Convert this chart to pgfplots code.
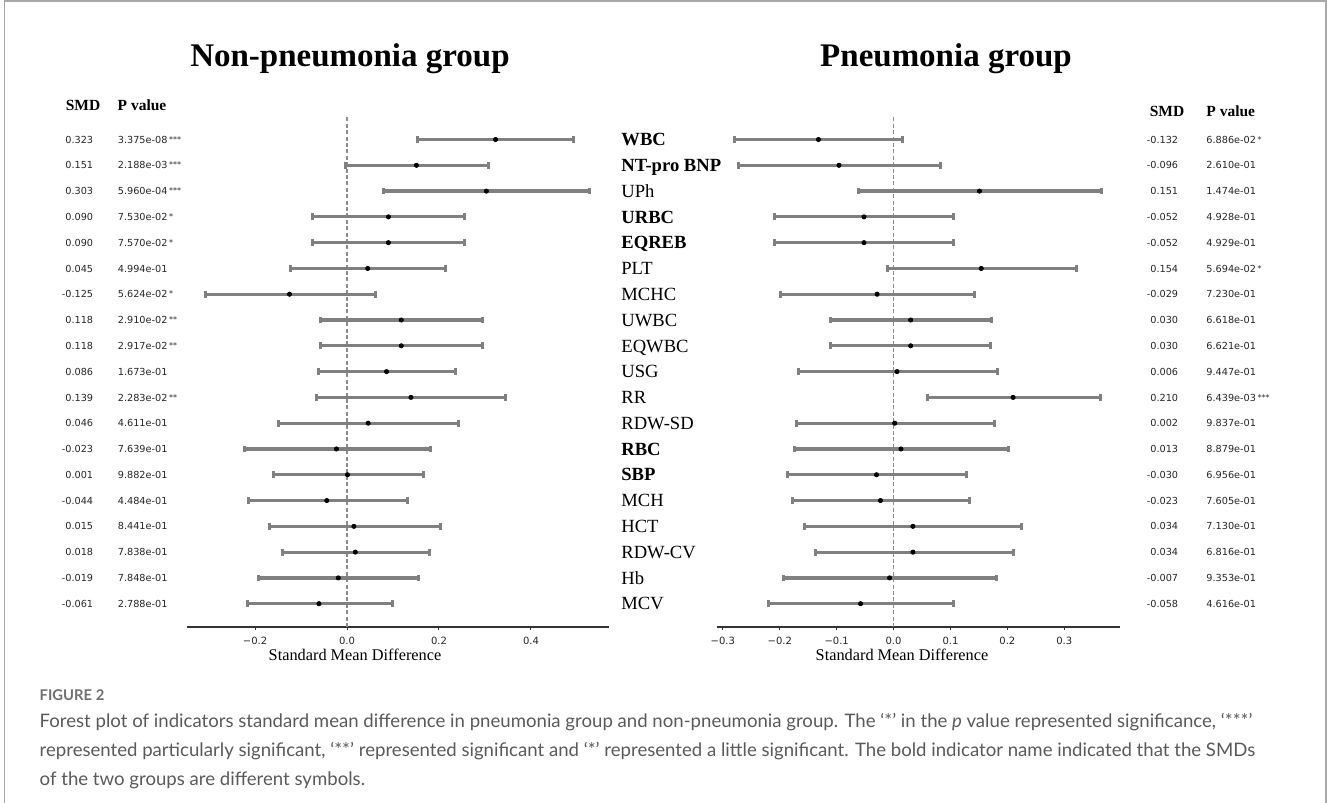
\documentclass[border=0pt]{standalone}
\usepackage{fontspec}
\setmainfont{Liberation Serif}
\newfontfamily\dv{DejaVu Sans}
\newfontfamily\lato{Lato}
\usepackage{pgfplots}
\usepackage{pgfplotstable}
\pgfplotsset{compat=1.18}
\definecolor{ebgray}{HTML}{808080}
\definecolor{dashgray}{HTML}{8C8C8C}
\definecolor{spine}{HTML}{333333}
\definecolor{capgray}{HTML}{5A5A5A}
\definecolor{figgray}{HTML}{707070}
\definecolor{framegray}{HTML}{A8A8A8}
\newcommand\st[1]{\,{\fontsize{4}{4}\selectfont\raisebox{0.5pt}{#1}}}

\pgfplotstableread{
y smd lo hi
18 0.323 0.154 0.492
17 0.151 -0.003 0.307
16 0.303 0.079 0.527
15 0.090 -0.074 0.255
14 0.090 -0.074 0.255
13 0.045 -0.123 0.215
12 -0.125 -0.307 0.061
11 0.118 -0.057 0.295
10 0.118 -0.057 0.295
9 0.086 -0.061 0.235
8 0.139 -0.067 0.345
7 0.046 -0.148 0.243
6 -0.023 -0.223 0.181
5 0.001 -0.160 0.166
4 -0.044 -0.215 0.131
3 0.015 -0.168 0.203
2 0.018 -0.141 0.179
1 -0.019 -0.192 0.156
0 -0.061 -0.216 0.098
}\leftdata

\pgfplotstableread{
y smd lo hi
18 -0.132 -0.279 0.016
17 -0.096 -0.272 0.082
16 0.151 -0.062 0.365
15 -0.052 -0.209 0.106
14 -0.052 -0.209 0.106
13 0.154 -0.010 0.321
12 -0.029 -0.199 0.143
11 0.030 -0.110 0.172
10 0.030 -0.110 0.171
9 0.006 -0.167 0.182
8 0.210 0.059 0.363
7 0.002 -0.171 0.177
6 0.013 -0.174 0.202
5 -0.030 -0.187 0.129
4 -0.023 -0.178 0.134
3 0.034 -0.156 0.225
2 0.034 -0.138 0.210
1 -0.007 -0.193 0.180
0 -0.058 -0.219 0.106
}\rightdata

\pgfplotsset{forest/.style={
  scale only axis, height=255.3pt, ymin=-0.9, ymax=18.9, clip=false,
  axis x line*=bottom, axis y line*=left,
  y axis line style={draw=none},
  x axis line style={draw=spine, line width=1pt},
  tick align=outside, major tick length=1.75pt,
  xtick style={draw=spine, line width=0.5pt},
  ytick style={draw=none},
  xticklabel style={font=\dv\fontsize{5}{6}\selectfont, text=black!85},
}}
\pgfplotsset{ebars/.style={draw=none, mark=none, forget plot,
  error bars/.cd, x dir=both, x explicit, error mark=|,
  error bar style={draw=ebgray, line width=1.6pt, line cap=butt},
  error mark options={draw=ebgray, line width=1.5pt, mark size=1.7pt}}}

\begin{document}
\begin{tikzpicture}
\begin{scope}[x=0.5pt,y=-0.5pt]
\path[use as bounding box] (0,0) rectangle (1328,803);
\draw[framegray, line width=0.7pt] (4.5,812) -- (4.5,1) -- (1326,1) -- (1326,812);
% titles
\node[anchor=base, inner sep=0pt, font=\bfseries\fontsize{16.5}{18}\selectfont] at (350,66.7) {Non-pneumonia group};
\node[anchor=base, inner sep=0pt, font=\bfseries\fontsize{16.5}{18}\selectfont] at (946,66.7) {Pneumonia group};
% headers
\node[anchor=base, inner sep=0pt, font=\bfseries\fontsize{7.75}{9}\selectfont] at (83,110) {SMD};
\node[anchor=base west, inner sep=0pt, font=\bfseries\fontsize{7.75}{9}\selectfont] at (117.3,110) {P value};
\node[anchor=base, inner sep=0pt, font=\bfseries\fontsize{7.75}{9}\selectfont] at (1167,116) {SMD};
\node[anchor=base west, inner sep=0pt, font=\bfseries\fontsize{7.75}{9}\selectfont] at (1206,116) {P value};
% left columns
\foreach \s/\p [count=\i from 0] in {0.323/3.375e-08\st{***}, 0.151/2.188e-03\st{***}, 0.303/5.960e-04\st{***}, 0.090/7.530e-02\st{*}, 0.090/7.570e-02\st{*}, 0.045/4.994e-01, -0.125/5.624e-02\st{*}, 0.118/2.910e-02\st{**}, 0.118/2.917e-02\st{**}, 0.086/1.673e-01, 0.139/2.283e-02\st{**}, 0.046/4.611e-01, -0.023/7.639e-01, 0.001/9.882e-01, -0.044/4.484e-01, 0.015/8.441e-01, 0.018/7.838e-01, -0.019/7.848e-01, -0.061/2.788e-01}{
  \node[anchor=base east, inner sep=0pt, font=\dv\fontsize{4.85}{5}\selectfont, text=black!85] at (93.5,{143.1+\i*25.79}) {\s};
  \node[anchor=base west, inner sep=0pt, font=\dv\fontsize{4.85}{5}\selectfont, text=black!85] at (117.5,{143.1+\i*25.79}) {\p};
}
% right columns
\foreach \s/\p [count=\i from 0] in {-0.132/6.886e-02\st{*}, -0.096/2.610e-01, 0.151/1.474e-01, -0.052/4.928e-01, -0.052/4.929e-01, 0.154/5.694e-02\st{*}, -0.029/7.230e-01, 0.030/6.618e-01, 0.030/6.621e-01, 0.006/9.447e-01, 0.210/6.439e-03\st{***}, 0.002/9.837e-01, 0.013/8.879e-01, -0.030/6.956e-01, -0.023/7.605e-01, 0.034/7.130e-01, 0.034/6.816e-01, -0.007/9.353e-01, -0.058/4.616e-01}{
  \node[anchor=base east, inner sep=0pt, font=\dv\fontsize{4.85}{5}\selectfont, text=black!85] at (1178.5,{143.1+\i*25.79}) {\s};
  \node[anchor=base west, inner sep=0pt, font=\dv\fontsize{4.85}{5}\selectfont, text=black!85] at (1206,{143.1+\i*25.79}) {\p};
}
% x labels
\node[anchor=base, inner sep=0pt, font=\fontsize{8.15}{9}\selectfont] at (355,660.7) {Standard Mean Difference};
\node[anchor=base, inner sep=0pt, font=\fontsize{8.15}{9}\selectfont] at (902,660.7) {Standard Mean Difference};
% caption
\node[anchor=base west, inner sep=0pt, font=\lato\bfseries\fontsize{7.4}{9}\selectfont, text=figgray] at (39.3,700) {FIGURE 2};
\node[anchor=base west, inner sep=0pt, font=\lato\fontsize{9.3}{11}\selectfont, text=capgray] at (39.3,727) {Forest plot of indicators standard mean difference in pneumonia group and non-pneumonia group. The ‘*’ in the \textit{p} value represented significance, ‘***’};
\node[anchor=base west, inner sep=0pt, font=\lato\fontsize{9.3}{11}\selectfont, text=capgray] at (39.3,756) {represented particularly significant, ‘**’ represented significant and ‘*’ represented a little significant. The bold indicator name indicated that the SMDs};
\node[anchor=base west, inner sep=0pt, font=\lato\fontsize{9.3}{11}\selectfont, text=capgray] at (39.3,785) {of the two groups are different symbols.};
\end{scope}

% left axis
\begin{axis}[forest, at={(93.25pt,-313.45pt)}, anchor=south west, width=211.1pt,
  xmin=-0.349, xmax=0.569, ytick=\empty,
  xtick={-0.2,0,0.2,0.4}, xticklabels={−0.2,0.0,0.2,0.4}]
\addplot[dashgray, line width=0.6pt, dash pattern=on 2pt off 1.2pt, forget plot] coordinates {(0,-0.9) (0,18.9)};
\addplot[ebars] table[x=smd, y=y, x error plus expr=\thisrow{hi}-\thisrow{smd}, x error minus expr=\thisrow{smd}-\thisrow{lo}] {\leftdata};
\addplot[only marks, mark=*, mark size=1.05pt, black] table[x=smd, y=y] {\leftdata};
\end{axis}

% right axis
\begin{axis}[forest, at={(358.3pt,-313.45pt)}, anchor=south west, width=201.45pt,
  xmin=-0.311, xmax=0.397,
  xtick={-0.3,-0.2,-0.1,0,0.1,0.2,0.3}, xticklabels={−0.3,−0.2,−0.1,0.0,0.1,0.2,0.3},
  ytick={0,...,18},
  yticklabels={MCV, Hb, RDW-CV, HCT, MCH, \textbf{SBP}, \textbf{RBC}, RDW-SD, RR, USG, EQWBC, UWBC, MCHC, PLT, \textbf{EQREB}, \textbf{URBC}, UPh, \textbf{NT-pro BNP}, \textbf{WBC}},
  yticklabel style={anchor=base west, inner sep=0pt, xshift=-46.05pt, yshift=-3.1pt, font=\fontsize{9.3}{11}\selectfont}]
\addplot[dashgray, line width=0.6pt, dash pattern=on 2pt off 1.2pt, forget plot] coordinates {(0,-0.9) (0,18.9)};
\addplot[ebars] table[x=smd, y=y, x error plus expr=\thisrow{hi}-\thisrow{smd}, x error minus expr=\thisrow{smd}-\thisrow{lo}] {\rightdata};
\addplot[only marks, mark=*, mark size=1.05pt, black] table[x=smd, y=y] {\rightdata};
\end{axis}
\end{tikzpicture}
\end{document}
